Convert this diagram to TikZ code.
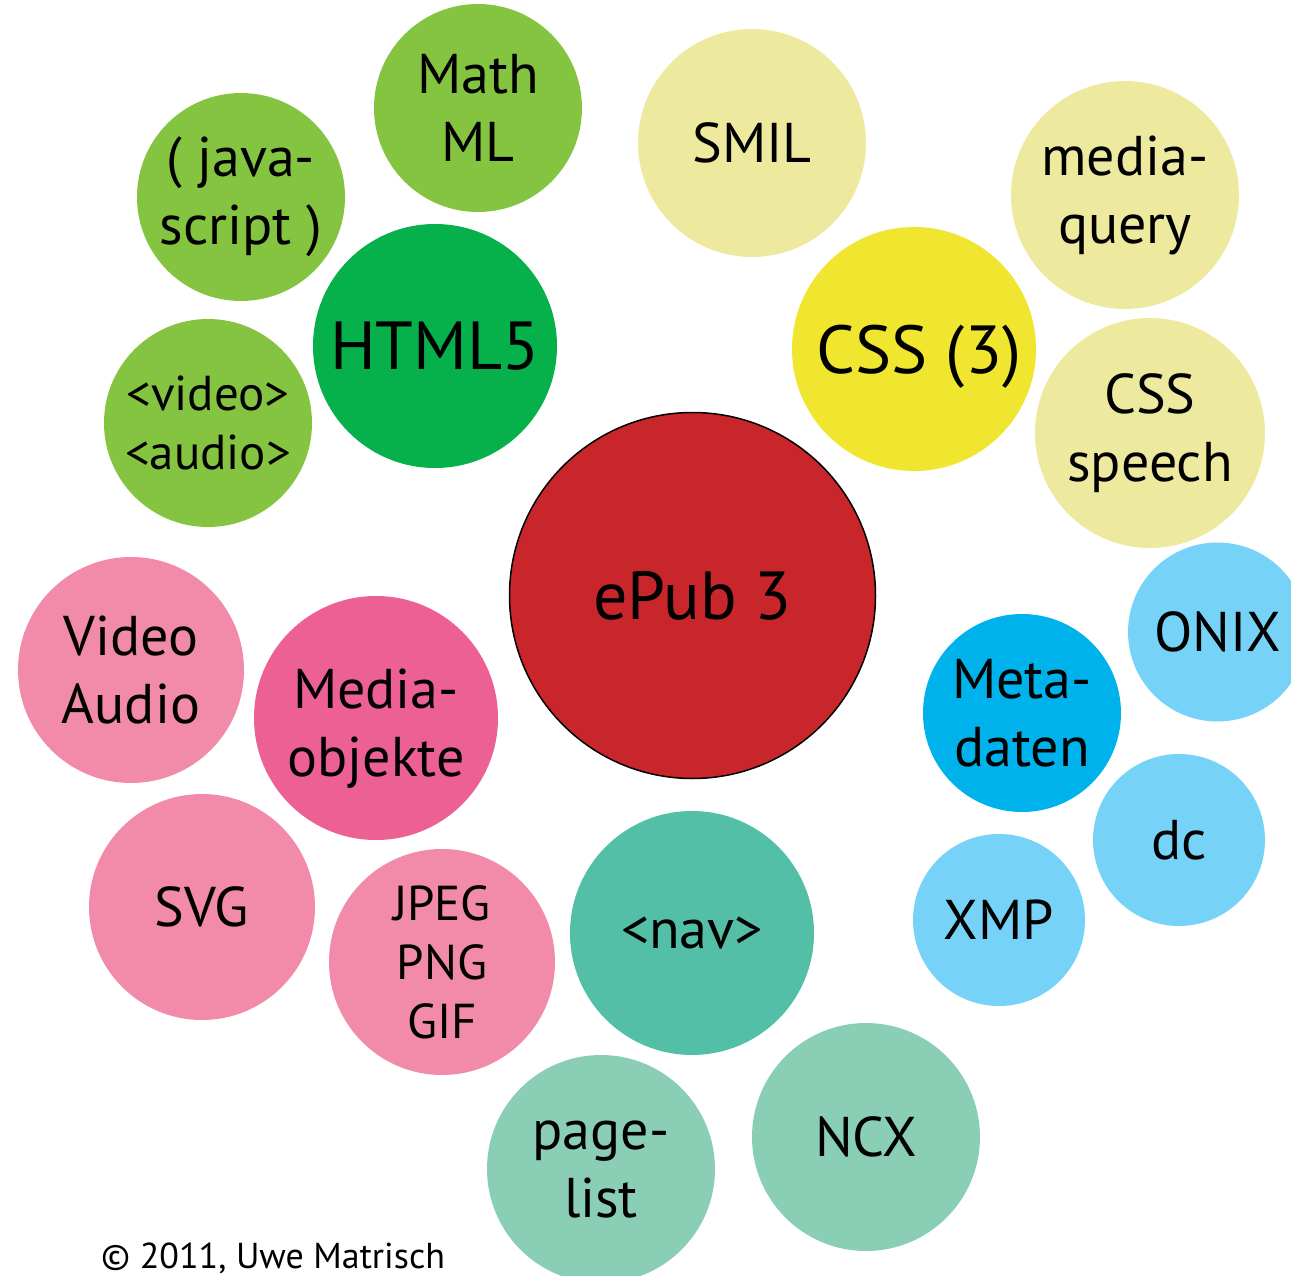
\documentclass[tikz,border=0pt]{standalone}
\usepackage{fontspec}
\setmainfont{PT Sans}
\definecolor{epubred}{HTML}{C8262B}
\definecolor{htmlgreen}{HTML}{06B04B}
\definecolor{lightgreen}{HTML}{85C441}
\definecolor{paleyellow}{HTML}{EDEA9F}
\definecolor{cssyellow}{HTML}{F0E52F}
\definecolor{metablue}{HTML}{00B2EB}
\definecolor{lightblue}{HTML}{77D2F7}
\definecolor{navteal}{HTML}{53BFA6}
\definecolor{lightteal}{HTML}{8ACEB6}
\definecolor{mediapink}{HTML}{EC6093}
\definecolor{lightpink}{HTML}{F28BAA}
\tikzset{
  bub/.style={circle, inner sep=0pt, align=center, text=black},
  bigtext/.style={font=\fontsize{68}{80}\selectfont},
  midtext/.style={font=\fontsize{56}{68}\selectfont},
  smalltext/.style={font=\fontsize{49}{59}\selectfont},
}
\begin{document}
\begin{tikzpicture}[x=1pt,y=-1pt]
\useasboundingbox (0,0) rectangle (1291,1276);
\clip (0,0) rectangle (1291,1276);
% centre
\node[bub, fill=epubred, draw=black, line width=1.5pt, minimum size=366pt, bigtext] (epub) at (692.5,595.5) {ePub 3};
% HTML group
\node[bub, fill=htmlgreen, minimum size=244pt, bigtext] (html) at (435,346) {HTML5};
\node[bub, fill=lightgreen, minimum size=208pt, midtext] (mathml) at (478,108) {Math\\ML};
\node[bub, fill=lightgreen, minimum size=208pt, midtext] (js) at (241,197) {( java-\\script )};
\node[bub, fill=lightgreen, minimum size=208pt, smalltext] (video) at (208,423) {<video>\\<audio>};
% CSS group
\node[bub, fill=cssyellow, minimum size=244pt, bigtext, text depth=0pt] (css) at (914,349) {\hspace*{10pt}CSS (3)};
\node[bub, fill=paleyellow, minimum size=228pt, midtext] (smil) at (752,143) {SMIL};
\node[bub, fill=paleyellow, minimum size=228pt, midtext] (mq) at (1125,195) {media-\\query};
\node[bub, fill=paleyellow, minimum size=230pt, midtext] (speech) at (1150,433) {CSS\\speech};
% Metadata group
\node[bub, fill=metablue, minimum size=198pt, midtext] (meta) at (1022,713) {Meta-\\daten};
\node[bub, fill=lightblue, minimum size=179pt, midtext] (onix) at (1217.5,632) {ONIX};
\node[bub, fill=lightblue, minimum size=172pt, midtext] (dc) at (1179,840) {dc};
\node[bub, fill=lightblue, minimum size=172pt, midtext] (xmp) at (999,920) {XMP};
% Navigation group
\node[bub, fill=navteal, minimum size=244pt, midtext] (nav) at (692,933) {<nav>};
\node[bub, fill=lightteal, minimum size=228pt, midtext] (ncx) at (866,1137) {NCX};
\node[bub, fill=lightteal, minimum size=228pt, midtext] (pagelist) at (601,1169) {page-\\list};
% Media group
\node[bub, fill=mediapink, minimum size=244pt, midtext] (media) at (376,718) {\rule{0pt}{60pt}Media-\\objekte};
\node[bub, fill=lightpink, minimum size=226pt, midtext] (va) at (131,670) {Video\\Audio};
\node[bub, fill=lightpink, minimum size=226pt, midtext] (svg) at (202,907) {SVG};
\node[bub, fill=lightpink, minimum size=226pt, smalltext] (img) at (442,962) {JPEG\\PNG\\GIF};
% copyright
\node[anchor=base west, inner sep=0pt, font=\fontsize{36}{40}\selectfont] (copy) at (101,1268) {© 2011, Uwe Matrisch};
\end{tikzpicture}
\end{document}
